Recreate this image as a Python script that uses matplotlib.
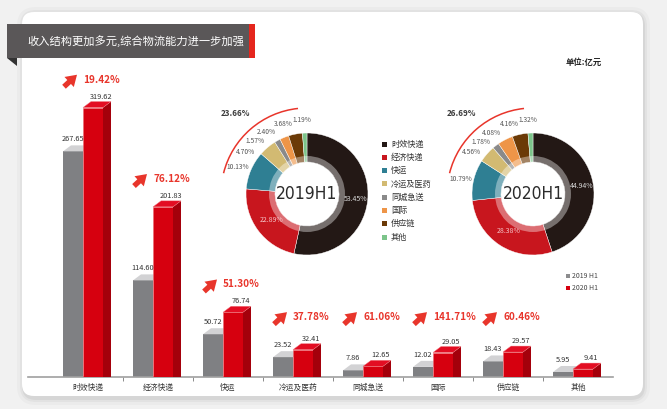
import matplotlib
matplotlib.use('Agg')
import matplotlib.pyplot as plt
import numpy as np
from matplotlib.patches import Polygon, Rectangle, FancyBboxPatch, Arc, Wedge

plt.rcParams['font.family'] = ['Noto Sans CJK SC', 'DejaVu Sans']

# data
categories = ['时效快递', '经济快递', '快运', '冷运及医药', '同城急送', '国际', '供应链', '其他']
rev_2019 = [267.65, 114.60, 50.72, 23.52, 7.86, 12.02, 18.43, 5.95]
rev_2020 = [319.62, 201.83, 76.74, 32.41, 12.65, 29.05, 29.57, 9.41]
growth = [19.42, 76.12, 51.30, 37.78, 61.06, 141.71, 60.46]
share_2019 = [53.45, 22.89, 10.13, 4.70, 1.57, 2.40, 3.68, 1.19]
share_2020 = [44.94, 28.38, 10.79, 4.56, 1.78, 4.08, 4.16, 1.32]
other_share = ['23.66%', '26.69%']
donut_titles = ['2019H1', '2020H1']
series_names = ['2019 H1', '2020 H1']

pie_colors = ['#231815', '#c8161e', '#2f7f93', '#d2ba72', '#8a8a8a', '#ee9548', '#6b3a07', '#7cc48a']
GRAY, RED, RED_SIDE, RED_TOP = '#7f8083', '#d6000f', '#a4000b', '#e30d22'
HL = '#e8352b'

W, H = 667, 409
fig = plt.figure(figsize=(6.67, 4.09), dpi=100)
fig.patch.set_facecolor('#f1f1f1')


def rect(l, t, w, h):
    return [l / W, 1 - (t + h) / H, w / W, h / H]


# background card + title banner (pixel coords)
bg = fig.add_axes([0, 0, 1, 1], zorder=0)
bg.set_xlim(0, W)
bg.set_ylim(H, 0)
bg.axis('off')
for k, a in [(7, 0.025), (4, 0.035), (2, 0.05)]:
    bg.add_patch(FancyBboxPatch((22 - k + 2, 12 - k + 2), 621 + 2 * k - 2, 384 + 2 * k,
                                boxstyle=f'round,pad=0,rounding_size={12 + k}', fc='k', alpha=a, ec='none'))
bg.add_patch(FancyBboxPatch((22, 12), 621, 384, boxstyle='round,pad=0,rounding_size=12', fc='white', ec='none'))
bg.add_patch(Rectangle((7, 24), 243, 34, fc='#5a5758', ec='none'))
bg.add_patch(Rectangle((249, 24), 6, 34, fc='#e5261d', ec='none'))
bg.add_patch(Polygon([(7, 58), (17, 58), (17, 66)], fc='#333333', ec='none'))
bg.text(27, 41, '收入结构更加多元,综合物流能力进一步加强', color='white', fontsize=8.1, va='center', ha='left')
bg.text(566, 62, '单位:亿元', color='#222222', fontsize=6, va='center', ha='left', fontweight='bold')

# donut legend
for i, (name, col) in enumerate(zip(categories, pie_colors)):
    y = 144 + 13.3 * i
    bg.add_patch(Rectangle((381.5, y - 2.5), 5, 5, fc=col, ec='none'))
    bg.text(391, y, name, va='center', ha='left', fontsize=5.9, color='#333333')

# bar legend
for i, (name, col) in enumerate(zip(series_names, ['#8c8c8e', RED])):
    y = 276 + 12 * i
    bg.add_patch(Rectangle((566, y - 2), 4, 4, fc=col, ec='none'))
    bg.text(572, y, name, va='center', ha='left', fontsize=5, color='#444444')

# bar chart
ax = fig.add_axes(rect(28, 40, 585, 337), zorder=1)
ax.patch.set_alpha(0)
px_x, px_y = 1 / 70, 1 / 0.843
ax.set_xlim(-60 * px_x, 525 * px_x)
ax.set_ylim(0, 337 * px_y)

x = np.arange(len(categories))
bw = 20 * px_x
g0 = x - 25 * px_x
r0 = x - 5 * px_x
dx, dy = 8 * px_x, 6 * px_y

ax.bar(g0, rev_2019, width=bw, align='edge', color=GRAY, zorder=2)
for xl, v in zip(g0, rev_2019):
    ax.add_patch(Polygon([(xl, v), (xl + bw, v), (xl + bw + dx, v + dy), (xl + dx, v + dy)],
                         fc='#d2d2d4', ec='none', zorder=2))
ax.bar(r0, rev_2020, width=bw, align='edge', color=RED, ec='#ec6a72', lw=0.4, zorder=4)
for xl, v in zip(r0, rev_2020):
    xr = xl + bw
    ax.add_patch(Polygon([(xr, 0), (xr + dx, 0), (xr + dx, v + dy), (xr, v)],
                         fc=RED_SIDE, ec='none', zorder=4))
    ax.add_patch(Polygon([(xl, v), (xr, v), (xr + dx, v + dy), (xl + dx, v + dy)],
                         fc=RED_TOP, ec='#f07a80', lw=0.3, zorder=4))

for xl, v in zip(g0, rev_2019):
    ax.annotate(f'{v:.2f}', (xl + bw / 2, v), xytext=(0, 12 * 0.72), textcoords='offset points',
                ha='center', va='center', fontsize=5.3, color='#333333', zorder=5)
for xl, v in zip(r0, rev_2020):
    ax.annotate(f'{v:.2f}', (xl + bw / 2 + dx, v), xytext=(0, 11 * 0.72), textcoords='offset points',
                ha='center', va='center', fontsize=5.3, color='#333333', zorder=5)

for xg, xr, v, g in zip(g0, r0, rev_2020, growth):
    yp = max(v, 38) + 33
    ax.text(xr, yp, f'{g:.2f}%', ha='left', va='center', fontsize=7.2, fontweight='bold',
            color=HL, zorder=5, clip_on=False)
    ax.annotate('', xy=(xg + 14 * px_x, yp + 5 * px_y), xytext=(xg + 1 * px_x, yp - 7 * px_y),
                arrowprops=dict(arrowstyle='simple,head_length=0.7,head_width=0.9,tail_width=0.35',
                                fc=HL, ec='none', mutation_scale=11, shrinkA=0, shrinkB=0),
                annotation_clip=False, zorder=5)

for s in ['top', 'right', 'left']:
    ax.spines[s].set_visible(False)
ax.spines['bottom'].set_color('#a0a0a0')
ax.spines['bottom'].set_linewidth(1.2)
ax.set_yticks([])
ax.set_xticks(x)
ax.set_xticklabels(categories, fontsize=5.6, color='#333333')
ax.tick_params(axis='x', length=0, pad=5)
ax.set_xticks(x[:-1] + 0.5, minor=True)
ax.tick_params(axis='x', which='minor', length=3, width=0.6, color='#777777', direction='out')

# donuts
centers = [(307, 194), (533, 194)]
for share, (cx, cy), title, oth in zip([share_2019, share_2020], centers, donut_titles, other_share):
    dax = fig.add_axes(rect(cx - 100, cy - 100, 200, 200), zorder=2)
    dax.pie(share, radius=61, startangle=90, counterclock=False, colors=pie_colors,
            wedgeprops=dict(width=29, edgecolor='white', linewidth=0.3))
    dax.add_patch(Wedge((0, 0), 38, 0, 360, width=6, fc='white', alpha=0.38, ec='none'))
    dax.set_xlim(-100, 100)
    dax.set_ylim(-100, 100)
    dax.set_aspect('equal')
    dax.axis('off')

    s = np.array(share)
    mids = np.cumsum(s) - s / 2
    ang = 90 - mids / 100 * 360
    # inner labels for the two big slices
    for i, (r, col) in enumerate([(49, '#d8d8d8'), (44, '#f5c4c8')]):
        a = np.deg2rad(ang[i])
        dax.text(r * np.cos(a), r * np.sin(a), f'{share[i]:.2f}%', ha='center', va='center',
                 fontsize=5, color=col)
    # outer labels, spread apart from the top going left
    a_out = ang % 360
    prev = None
    for i in range(len(s) - 1, 1, -1):
        a = a_out[i]
        if prev is not None:
            a = max(a, prev + (15 if prev < 112 else 11))
        prev = a
        ar = np.deg2rad(a + 1.5)
        dax.text(74 * np.cos(ar), 74 * np.sin(ar), f'{share[i]:.2f}%', ha='center', va='center',
                 fontsize=4.8, color='#555555')
    dax.add_patch(Arc((0, 0), 172, 172, theta1=96, theta2=166, color=HL, lw=1.1))
    dax.text(-72, 81, oth, ha='center', va='center', fontsize=5.8, color='#3a3a3a', fontweight='bold')
    dax.text(0, 0, title, ha='center', va='center', fontsize=12.5, color='#2b2b2b',
             family='DejaVu Sans', fontstretch='condensed')

fig.savefig('out.png', dpi=100, facecolor=fig.get_facecolor())
